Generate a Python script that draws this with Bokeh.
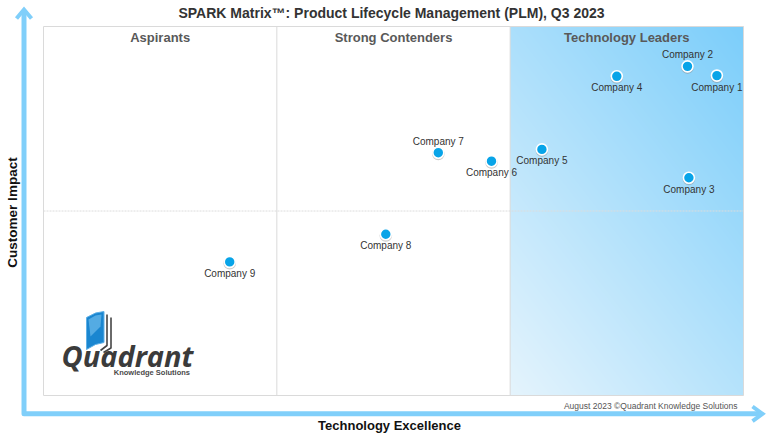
import numpy as np
from bokeh.plotting import figure
from bokeh.models import Label, Range1d
from bokeh.embed import file_html
from bokeh.resources import INLINE
from bokeh.core.properties import value

# ---------------- data ----------------
companies = ["Company 1", "Company 2", "Company 3", "Company 4", "Company 5",
             "Company 6", "Company 7", "Company 8", "Company 9"]
tech_excellence = [9.62, 9.20, 9.22, 8.19, 7.12, 6.40, 5.64, 4.89, 2.66]
customer_impact = [8.67, 8.92, 5.90, 8.65, 6.67, 6.35, 6.58, 4.37, 3.62]
label_side = ["below", "above", "below", "below", "below",
              "below", "above", "below", "below"]
quadrant_names = ["Aspirants", "Strong Contenders", "Technology Leaders"]
title_text = "SPARK Matrix\u2122: Product Lifecycle Management (PLM), Q3 2023"
x_title = "Technology Excellence"
y_title = "Customer Impact"
footnote = "August 2023 \u00a9Quadrant Knowledge Solutions"

FONT = "Liberation Sans"

# reference-pixel -> data helpers (box spans 0..10 on both axes)
PX_X = 70.0
PX_Y = 36.9
def dx(px):
    return (px - 43.0) / PX_X
def dy(py):
    return (395.0 - py) / PX_Y

p = figure(width=771, height=434, output_backend="svg", toolbar_location=None,
           x_range=Range1d(dx(0), dx(771)), y_range=Range1d(dy(434), dy(0)),
           min_border=0, outline_line_color=None, background_fill_color="white",
           border_fill_color="white")
p.axis.visible = False
p.grid.visible = False

# ---- gradient background for leaders quadrant ----
W, H = 233, 369
pp = np.linspace(0, 1, W)[None, :]
qq = np.linspace(0, 1, H)[:, None]
t = 0.45 * pp + 0.55 * qq
light = np.array([229, 244, 253], dtype=float)
dark = np.array([124, 206, 250], dtype=float)
img = np.empty((H, W), dtype=np.uint32)
view = img.view(dtype=np.uint8).reshape((H, W, 4))
for c in range(3):
    view[:, :, c] = (light[c] + (dark[c] - light[c]) * t).astype(np.uint8)
view[:, :, 3] = 255
p.image_rgba(image=[img], x=20 / 3, y=0, dw=10 / 3, dh=10)

# ---- box and dividers ----
p.quad(left=0, right=10, bottom=0, top=10, fill_color=None, line_color="#dadada", line_width=1)
p.segment(x0=[10 / 3, 20 / 3], y0=[0, 0], x1=[10 / 3, 20 / 3], y1=[10, 10],
          line_color="#dadada", line_width=1)
p.segment(x0=[0], y0=[5], x1=[10], y1=[5], line_color="#dcdcdc", line_width=1, line_dash="2 1")

for i, name in enumerate(quadrant_names):
    p.add_layout(Label(x=(i + 0.5) * 10 / 3, y=dy(37), text=name, text_align="center",
                       text_baseline="middle", text_font=FONT, text_font_size="13px",
                       text_font_style="bold", text_color="#595959"))

# ---- points ----
shadow_y = [v - 1.3 / PX_Y for v in customer_impact]
p.scatter(tech_excellence, shadow_y, size=12.5, fill_color="#8c8c8c", fill_alpha=0.45,
          line_color=None)
p.scatter(tech_excellence, customer_impact, size=11, fill_color="#08a4e8",
          line_color="white", line_width=1.6)
label_y = [v + (11.5 if s == "above" else -11.5) / PX_Y
           for v, s in zip(customer_impact, label_side)]
p.text(tech_excellence, label_y, text=companies, text_font=value(FONT),
       text_font_size="10px", text_color="#333333", text_align="center",
       text_baseline="middle")

# ---- axis arrows ----
arrow_color = "#80cffa"
p.line(x=[dx(23.5), dx(23.5), dx(759)], y=[dy(10), dy(413.3), dy(413.3)],
       line_width=5, line_color=arrow_color, line_join="round")
p.multi_line(xs=[[dx(16), dx(23.5), dx(31)], [dx(752), dx(762), dx(752)]],
             ys=[[dy(18), dy(9), dy(18)], [dy(406), dy(413.3), dy(420.6)]],
             line_width=4, line_color=arrow_color, line_join="miter")

# ---- texts ----
p.add_layout(Label(x=dx(391), y=dy(12.5), text=title_text, text_align="center",
                   text_baseline="middle", text_font=FONT, text_font_size="14px",
                   text_font_style="bold", text_color="#333333"))
p.add_layout(Label(x=dx(389), y=dy(425), text=x_title, text_align="center",
                   text_baseline="middle", text_font=FONT, text_font_size="13px",
                   text_font_style="bold", text_color="#111111"))
p.add_layout(Label(x=dx(12), y=dy(212), text=y_title, text_align="center",
                   text_baseline="middle", text_font=FONT, text_font_size="13.5px",
                   text_font_style="bold", text_color="#111111", angle=np.pi / 2))
p.add_layout(Label(x=dx(737), y=dy(405), text=footnote, text_align="right",
                   text_baseline="middle", text_font=FONT, text_font_size="8.5px",
                   text_color="#555555"))

# ---- logo ----
p.patch(x=[dx(86), dx(95), dx(103.5), dx(103.5), dx(95), dx(86)],
        y=[dy(317), dy(312.5), dy(311), dy(342), dy(344), dy(349)],
        fill_color="#1a86d0", line_color="#5fb0e6", line_width=1)
p.patch(x=[dx(88), dx(95), dx(101), dx(100), dx(90)],
        y=[dy(319), dy(315), dy(314), dy(326), dy(336)],
        fill_color="#7cc4f0", fill_alpha=0.6, line_color=None)
p.multi_line(xs=[[dx(106.5), dx(106.5), dx(100)], [dx(110.5), dx(110.5), dx(103)]],
             ys=[[dy(314), dy(345), dy(350)], [dy(317), dy(347.5), dy(352)]],
             line_color="#454545", line_width=1.6)
p.add_layout(Label(x=dx(61), y=dy(355), text="Quadrant", text_align="left",
                   text_baseline="middle", text_font="Open Sans", text_font_size="29px",
                   text_font_style="bold italic", text_color="#3b3b3b"))
p.add_layout(Label(x=dx(189.5), y=dy(372), text="Knowledge Solutions", text_align="right",
                   text_baseline="middle", text_font=FONT, text_font_size="7.5px",
                   text_font_style="bold", text_color="#4a4a4a"))

open("out.html", "w").write(file_html(p, INLINE))
